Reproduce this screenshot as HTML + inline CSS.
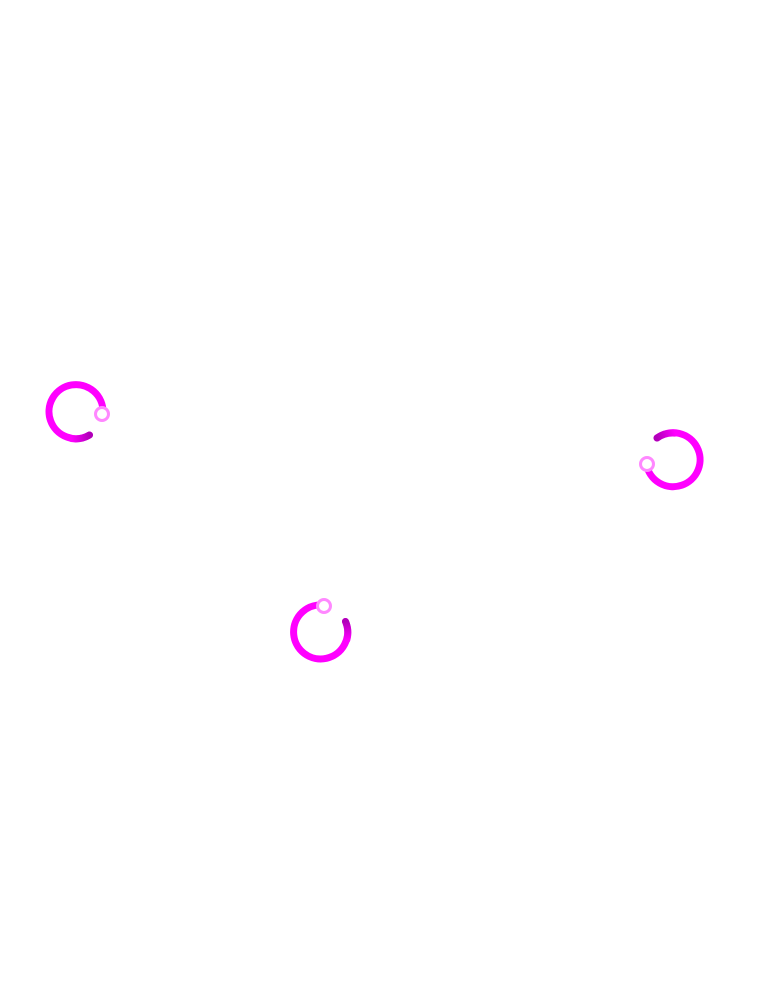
<!DOCTYPE html>
<html><head><meta charset="utf-8"><style>html,body{margin:0;padding:0;background:#fff;width:768px;height:995px;overflow:hidden}</style></head>
<body>
<svg width="768" height="995" viewBox="0 0 768 995" xmlns="http://www.w3.org/2000/svg">
<defs>
<linearGradient id="g1" gradientUnits="userSpaceOnUse" x1="89.5" y1="435.4" x2="71.3" y2="438.6"><stop offset="0" stop-color="#b000b8"/><stop offset="1" stop-color="#ff00ff"/></linearGradient>
<linearGradient id="g2" gradientUnits="userSpaceOnUse" x1="657" y1="438" x2="674.9" y2="433.1"><stop offset="0" stop-color="#b000b8"/><stop offset="1" stop-color="#ff00ff"/></linearGradient>
<linearGradient id="g3" gradientUnits="userSpaceOnUse" x1="345.5" y1="621.5" x2="346.8" y2="639.9"><stop offset="0" stop-color="#b000b8"/><stop offset="1" stop-color="#ff00ff"/></linearGradient>
</defs>
<g fill="none" stroke-width="7" stroke-linecap="round">
<path d="M89.5,435 A27,27 0 1 1 103,412" stroke="#ff00ff"/>
<path d="M657,438 A27,27 0 1 1 646.5,464.5" stroke="#ff00ff"/>
<path d="M345.5,621.5 A27,27 0 1 1 324.3,605.2" stroke="#ff00ff"/>
<path d="M89.5,435 A27,27 0 0 1 71.3,438.6" stroke="url(#g1)"/>
<path d="M657,438 A27,27 0 0 1 674.9,433.1" stroke="url(#g2)"/>
<path d="M345.5,621.5 A27,27 0 0 1 346.8,639.9" stroke="url(#g3)"/>
</g>
<g fill="#fff" stroke="#ff88ff" stroke-width="3">
<circle cx="102" cy="414" r="6.5"/>
<circle cx="647" cy="464" r="6.5"/>
<circle cx="324" cy="606" r="6.5"/>
</g>
</svg>
</body></html>
